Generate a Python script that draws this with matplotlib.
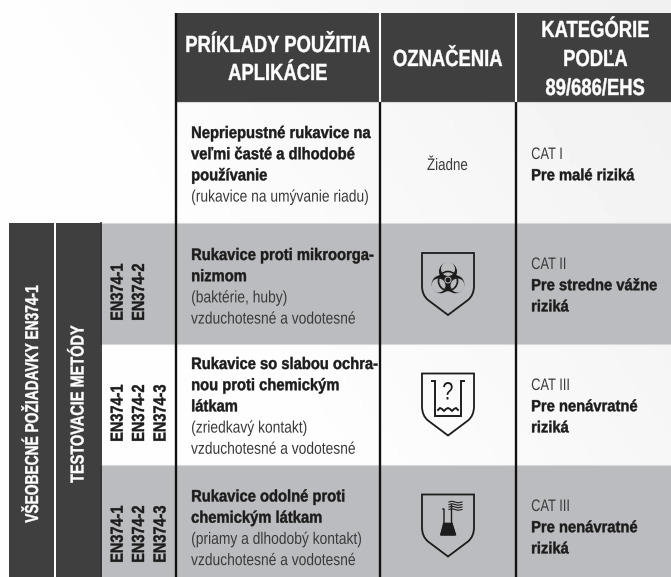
import numpy as np
import matplotlib
matplotlib.use("Agg")
import matplotlib.pyplot as plt
from matplotlib.patches import Rectangle, Circle, PathPatch, Polygon
from matplotlib.patheffects import AbstractPathEffect
from matplotlib.path import Path
from matplotlib.transforms import Affine2D

# Table contents
headers = [["PRÍKLADY POUŽITIA", "APLIKÁCIE"], ["OZNAČENIA"], ["KATEGÓRIE", "PODĽA", "89/686/EHS"]]
side_outer = "VŠEOBECNÉ POŽIADAVKY EN374-1"
side_inner = "TESTOVACIE METÓDY"
norms = [[], ["EN374-1", "EN374-2"], ["EN374-1", "EN374-2", "EN374-3"], ["EN374-1", "EN374-2", "EN374-3"]]
bold_lines = [
    ["Nepriepustné rukavice na", "veľmi časté a dlhodobé", "používanie"],
    ["Rukavice proti mikroorga-", "nizmom"],
    ["Rukavice so slabou ochra-", "nou proti chemickým", "látkam"],
    ["Rukavice odolné proti", "chemickým látkam"],
]
plain_lines = [
    ["(rukavice na umývanie riadu)"],
    ["(baktérie, huby)", "vzduchotesné a vodotesné"],
    ["(zriedkavý kontakt)", "vzduchotesné a vodotesné"],
    ["(priamy a dlhodobý kontakt)", "vzduchotesné a vodotesné"],
]
cats = ["CAT I", "CAT II", "CAT III", "CAT III"]
cat_text = [["Pre malé riziká"], ["Pre stredne vážne", "riziká"], ["Pre nenávratné", "riziká"], ["Pre nenávratné", "riziká"]]
no_mark = "Žiadne"

dark = "#3f3f40"
grey = "#bbbcbf"
ink = "#1d1c1c"
soft = "#3a3a3a"
font = "Liberation Sans"

row_edges = [102, 223, 344, 465, 577]
col_edges = [175.5, 380, 516, 671]


# No condensed face is installed, so squeeze the glyphs along the text direction
class Squeeze(AbstractPathEffect):
    def __init__(self, sx, centre=False, stroke=0.0):
        super().__init__()
        self.sx = sx
        self.centre = centre
        self.stroke = stroke

    def draw_path(self, renderer, gc, tpath, affine, rgbFace=None):
        ext = tpath.get_extents()
        mid = (ext.x0 + ext.x1) / 2 if self.centre else ext.x0
        squeeze = Affine2D().translate(-mid, 0).scale(self.sx, 1).translate(mid, 0)
        gc0 = renderer.new_gc()
        gc0.copy_properties(gc)
        if self.stroke:
            gc0.set_linewidth(self.stroke)
            gc0.set_foreground(rgbFace)
        renderer.draw_path(gc0, tpath, squeeze + affine, rgbFace)
        gc0.restore()


fig = plt.figure(figsize=(6.71, 5.77), dpi=100)
ax = fig.add_axes([0, 0, 1, 1])
ax.set_xlim(0, 671)
ax.set_ylim(577, 0)
ax.axis("off")


def label(x, y, s, size, sx, bold=True, color=ink, centre=False, rot=0, z=5):
    t = ax.text(x, y, s, color=color, family=font, weight="bold" if bold else "normal", fontsize=size,
                ha="center" if centre else "left", va="baseline", rotation=rot,
                rotation_mode="anchor", zorder=z)
    t.set_path_effects([Squeeze(sx, centre, 0.3 if bold else 0.0)])
    return t


# Soft diagonal background
xx, yy = np.meshgrid(np.linspace(0, 1, 120), np.linspace(0, 1, 120))
shade = np.clip((xx - yy * 0.6) * 1.1, 0, 1)
ax.imshow(0.995 - 0.05 * shade, extent=(0, 671, 577, 0), cmap="gray", vmin=0, vmax=1, aspect="auto", zorder=0)

# Header
ax.add_patch(Rectangle((175, 13), 496, 89, fc=dark, ec="none", zorder=1))
for x in col_edges[1:3]:
    ax.plot([x, x], [13, 102], color="white", lw=1.5, zorder=2, solid_capstyle="butt")
centres = [278, 448, 595.5]
head_y = [[52, 80], [66], [37, 66, 95]]
for lines, cx, ys in zip(headers, centres, head_y):
    for line, y in zip(lines, ys):
        label(cx, y, line, 16.8, 0.79, color="white", centre=True, z=3)

# Grey rows
for i in (1, 3):
    ax.add_patch(Rectangle((100, row_edges[i]), 571, row_edges[i + 1] - row_edges[i], fc=grey, ec="none", zorder=1))
for y in row_edges[:-1]:
    ax.plot([175 if y == 102 else 100, 671], [y, y], color="#d8d9da", lw=0.8, zorder=2)

# Side columns
ax.add_patch(Rectangle((9, 223), 45, 354, fc=dark, ec="none", zorder=2))
ax.add_patch(Rectangle((56, 223), 44, 354, fc=dark, ec="none", zorder=2))
ax.plot([100.5, 100.5], [223, 577], color=ink, lw=1.2, zorder=3)
label(38, 404, side_outer, 13.4, 0.74, color="white", centre=True, rot=90, z=3)
label(83.5, 404, side_inner, 13.4, 0.78, color="white", centre=True, rot=90, z=3)

# Black dividers in the body
for x in col_edges[:3]:
    y0 = 13 if x == col_edges[0] else 102
    ax.plot([x, x], [y0, 577], color="#111111", lw=1.7, zorder=4, solid_capstyle="butt")

# Rows of text
line_h = 21.2
starts = [138, 260, 369, 501.5]
for i in range(4):
    y = starts[i]
    for line in bold_lines[i]:
        label(191, y, line, 12, 0.885, color=ink)
        y += line_h
    for line in plain_lines[i]:
        label(191, y, line, 12, 0.83, bold=False, color=soft)
        y += line_h

cat_y = [159, 269, 390, 511]
for i in range(4):
    label(531, cat_y[i], cats[i], 12, 0.77, bold=False, color=soft)
    y = cat_y[i] + line_h
    for line in cat_text[i]:
        label(531, y, line, 11.6, 0.915, color=ink)
        y += line_h

label(447.5, 170, no_mark, 12, 0.8, bold=False, color=soft, centre=True)

# EN norm labels, rotated
norm_x = [122.7, 144, 165.5]
norm_base = {1: 321, 2: 442, 3: 563}
for i in range(1, 4):
    for x, n in zip(norm_x, norms[i]):
        label(x, norm_base[i], n, 12.6, 0.83, rot=90)


# Icons
def shield(top):
    verts = [(422, top), (474, top), (474, top + 33), (474, top + 42), (468, top + 47), (448, top + 62),
             (428, top + 47), (422, top + 42), (422, top + 33), (422, top)]
    codes = [Path.MOVETO, Path.LINETO, Path.LINETO, Path.CURVE3, Path.CURVE3, Path.LINETO,
             Path.LINETO, Path.CURVE3, Path.CURVE3, Path.CLOSEPOLY]
    ax.add_patch(PathPatch(Path(verts, codes), fc="none", ec="#1c1c1c", lw=1.3, joinstyle="miter", zorder=5))


shield(253)
shield(373.5)
shield(494.5)

# Biohazard sign
cx, cy = 448, 280
for a in np.deg2rad([90, 210, 330]):
    ux, uy = np.cos(a), -np.sin(a)
    ax.add_patch(Circle((cx + 8.5 * ux, cy + 8.5 * uy), 9, fc=ink, ec="none", zorder=5))
    ax.add_patch(Circle((cx + 11 * ux, cy + 11 * uy), 7, fc=grey, ec="none", zorder=6))
ax.add_patch(Circle((cx, cy + 1), 9.5, fc="none", ec=ink, lw=1.2, zorder=7))
ax.add_patch(Circle((cx, cy), 3, fc=ink, ec=grey, lw=0.7, zorder=8))

# Beaker with a question mark
ax.plot([432, 435, 435, 460.5, 460.5, 464], [381, 381, 416, 416, 381, 381], color=ink, lw=1.4, zorder=5, solid_joinstyle="miter")
label(447.8, 399.5, "?", 18, 0.8, bold=False, color=ink, centre=True)
wave_x = [438, 440, 442, 444, 446, 448, 450, 452, 454, 456, 458]
wave_y = [410, 408, 409, 411, 409, 408, 409, 411, 409, 408, 410]
ax.plot(wave_x, wave_y, color=ink, lw=1.4, zorder=5)

# Flask with fumes
ax.plot([443, 444, 444, 441, 441, 455, 455, 451.5, 451.5], [509, 509, 522, 534, 535, 535, 534, 522, 505], color=ink, lw=1.0, zorder=5)
ax.add_patch(Polygon([(444, 523), (452, 523), (456, 535), (440.5, 535)], fc=ink, ec=ink, lw=0.5, zorder=5))
for y in [502, 504.5, 507, 509.5]:
    ax.plot([449, 452, 455, 458, 462], [y, y - 0.8, y, y + 0.8, y], color=ink, lw=0.8, zorder=5)

fig.savefig("out.png", dpi=100)
